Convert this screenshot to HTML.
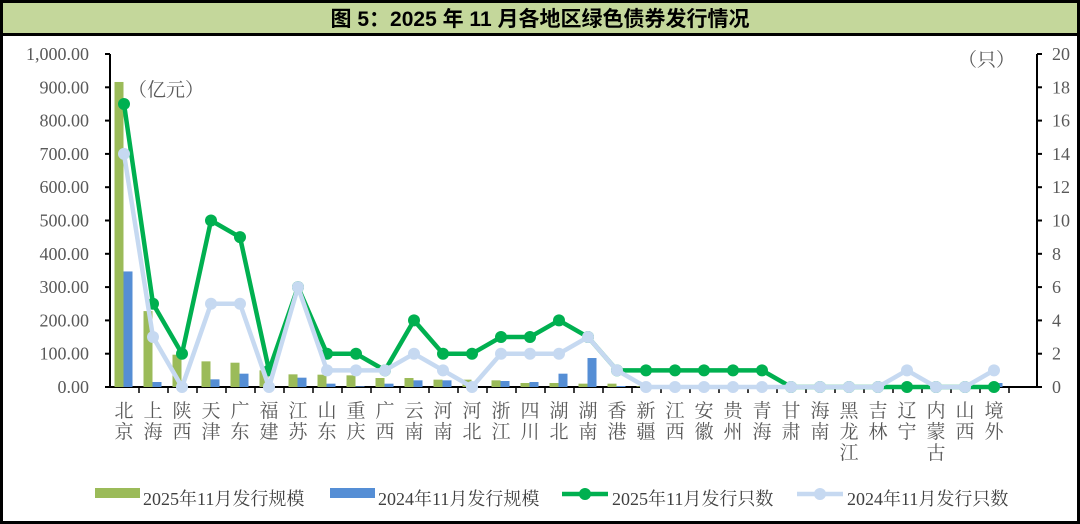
<!DOCTYPE html>
<html><head><meta charset="utf-8"><style>
html,body{margin:0;padding:0;background:#fff;}
svg{display:block;}
</style></head><body>
<svg id="c" width="1080" height="524" xmlns="http://www.w3.org/2000/svg"></svg>
<script>
(function(){
const s=document.getElementById('c');let h='';
h+='<rect x="1.5" y="1.5" width="1077" height="521" fill="#fff" stroke="#000" stroke-width="3"/>';
h+='<rect x="3" y="3" width="1074" height="31" fill="#c4d79b"/>';
h+='<line x1="0" y1="34.5" x2="1080" y2="34.5" stroke="#000" stroke-width="3"/>';
h+='<text x="540" y="26" text-anchor="middle" font-family="Liberation Sans, Noto Sans CJK SC, sans-serif" font-weight="bold" font-size="21" fill="#000">图 5：2025 年 11 月各地区绿色债券发行情况</text>';
const F='font-family="Liberation Serif, Noto Serif CJK SC, serif" fill="#595959"';
const y0=387,yTop=54,L=110,R=1037;
const yv=v=>y0-(y0-yTop)*v/1000, yc=c=>y0-(y0-yTop)*c/20;
h+=`<line x1="${L}" y1="${yTop}" x2="${L}" y2="${y0}" stroke="#000" stroke-width="2"/>`;
h+=`<line x1="${R}" y1="${yTop}" x2="${R}" y2="${y0}" stroke="#000" stroke-width="2"/>`;
h+=`<line x1="${L}" y1="${y0}" x2="${R}" y2="${y0}" stroke="#000" stroke-width="2"/>`;
for(let i=0;i<=10;i++){const y=yv(i*100);h+=`<line x1="${L-5}" y1="${y}" x2="${L}" y2="${y}" stroke="#000" stroke-width="2"/>`;
const t=i==10?'1,000.00':(i*100).toFixed(2);h+=`<text x="89" y="${y+6}" text-anchor="end" font-size="18" ${F}>${t}</text>`;}
for(let i=0;i<=10;i++){const y=yc(i*2);h+=`<line x1="${R}" y1="${y}" x2="${R+5}" y2="${y}" stroke="#000" stroke-width="2"/>`;
h+=`<text x="1052" y="${y+6}" font-size="18" ${F}>${i*2}</text>`;}
h+=`<text x="128" y="96" font-size="19" ${F}>（亿元）</text>`;
h+=`<text x="958" y="66" font-size="19" ${F}>（只）</text>`;
const names=['北京','上海','陕西','天津','广东','福建','江苏','山东','重庆','广西','云南','河南','河北','浙江','四川','湖北','湖南','香港','新疆','江西','安徽','贵州','青海','甘肃','海南','黑龙江','吉林','辽宁','内蒙古','山西','境外'];
const g=[916,228,97,77,73,50,38,37,35,27,27,22,22,20,12,12,10,10,2,2,2,2,2,0,0,0,0,0,0,0,3];
const b=[347,15,0,23,40,0,28,10,2,10,20,20,0,18,15,40,87,3,0,0,0,0,0,0,0,0,0,0,0,0,12];
const gc=[17,5,2,10,9,1,6,2,2,1,4,2,2,3,3,4,3,1,1,1,1,1,1,0,0,0,0,0,0,0,0];
const bc=[14,3,0,5,5,0,6,1,1,1,2,1,0,2,2,2,3,1,0,0,0,0,0,0,0,0,0,1,0,0,1];
const cx=i=>124+29*i;
for(let i=1;i<=31;i++){const x=L+29*i;h+=`<line x1="${x}" y1="${y0}" x2="${x}" y2="${y0+6}" stroke="#000" stroke-width="1.5"/>`;}
names.forEach((n,i)=>{[...n].forEach((ch,k)=>{h+=`<text x="${cx(i)}" y="${417+k*21}" text-anchor="middle" font-size="19" ${F}>${ch}</text>`;});
if(g[i]>0)h+=`<rect x="${cx(i)-9.5}" y="${yv(g[i])}" width="9" height="${y0-yv(g[i])}" fill="#9bbb59"/>`;
if(b[i]>0)h+=`<rect x="${cx(i)-0.5}" y="${yv(b[i])}" width="9" height="${y0-yv(b[i])}" fill="#558ed5"/>`;});
const line=(arr,col)=>{h+=`<polyline fill="none" stroke="${col}" stroke-width="4.5" stroke-linejoin="round" points="${arr.map((c,i)=>cx(i)+','+yc(c)).join(' ')}"/>`;
arr.forEach((c,i)=>{h+=`<circle cx="${cx(i)}" cy="${yc(c)}" r="6" fill="${col}"/>`;});};
line(gc,'#00b050');line(bc,'#c6d9f1');
const LF='font-family="Liberation Serif, Noto Serif CJK SC, serif" fill="#404040" font-size="18"';
h+=`<rect x="95" y="488" width="45" height="10" fill="#9bbb59"/><text x="143" y="505" ${LF}>2025年11月发行规模</text>`;
h+=`<rect x="330" y="488" width="45" height="10" fill="#558ed5"/><text x="378" y="505" ${LF}>2024年11月发行规模</text>`;
h+=`<line x1="562" y1="494" x2="608" y2="494" stroke="#00b050" stroke-width="4.5"/><circle cx="585" cy="494" r="6" fill="#00b050"/><text x="612" y="505" ${LF}>2025年11月发行只数</text>`;
h+=`<line x1="797" y1="494" x2="843" y2="494" stroke="#c6d9f1" stroke-width="4.5"/><circle cx="820" cy="494" r="6" fill="#c6d9f1"/><text x="847" y="505" ${LF}>2024年11月发行只数</text>`;
s.innerHTML=h;
})();
</script>
</body></html>
